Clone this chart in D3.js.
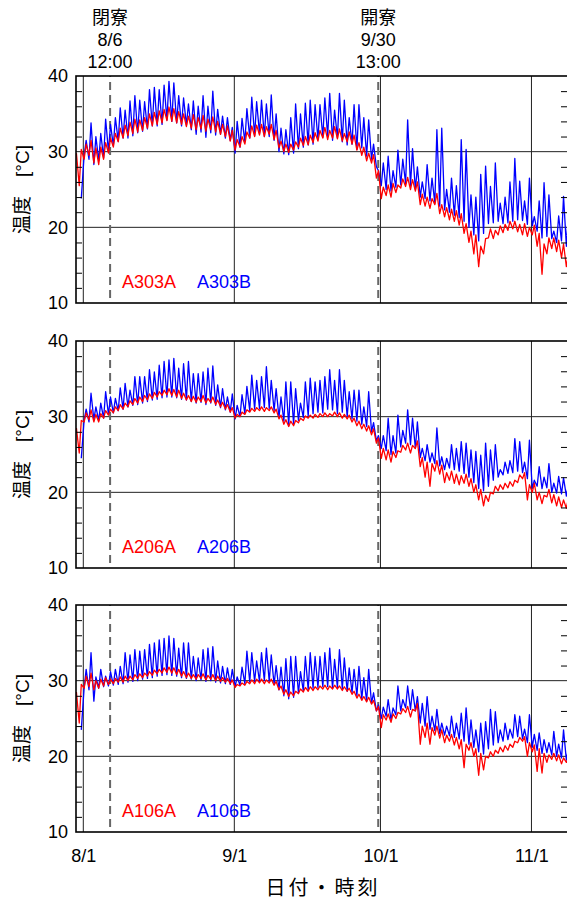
<!DOCTYPE html>
<html>
<head>
<meta charset="utf-8">
<script src="https://cdn.jsdelivr.net/npm/d3@7"></script>
<style>
  body { margin: 0; background: #fff; }
  svg { display: block; }
  text { font-family: "Liberation Sans", Arial, "Noto Sans CJK JP", sans-serif; }
</style>
</head>
<body>
<svg id="chart" width="567" height="899"></svg>
<script>
// Daily readings from 7/30 to 11/8 (102 days): "am" = 04:00, "pm" = 14:00, in °C.
const A303A_am = [null, 25.5,
  29.0, 29.5, 28.5, 28.3, 29.0, 29.8, 30.6, 31.3, 31.8, 32.1, 32.4, 32.6, 32.8, 33.1, 33.4, 33.6, 33.8, 34.1, 34.0, 33.8, 33.6, 33.3, 33.1, 32.9, 33.0, 32.7, 32.9, 32.6, 32.3, 32.0, 31.4,
  30.2, 30.6, 31.0, 31.8, 32.0, 32.2, 32.0, 32.3, 31.6, 30.5, 30.0, 29.9, 30.2, 30.6, 30.8, 30.9, 31.2, 31.4, 31.8, 31.6, 31.8, 31.7, 31.4, 31.3, 31.0, 30.2, 29.5, 28.8, 28.5, 26.5,
  23.8, 24.2, 24.0, 24.6, 25.2, 25.4, 25.0, 24.8, 23.0, 22.8, 22.5, 23.0, 21.8, 21.4, 21.0, 20.8, 20.3, 19.2, 18.0, 16.5, 14.8, 16.5, 18.6, 18.5, 19.0, 19.3, 19.6, 19.8, 19.4, 19.0, 18.8,
  19.0, 17.5, 13.8, 16.5, 17.2, 16.8, 16.0, 14.8];
const A303A_pm = [29.8, 30.3,
  31.0, 31.5, 30.5, 30.6, 31.2, 31.8, 32.4, 33.1, 33.5, 33.9, 34.3, 34.2, 34.5, 35.0, 35.2, 35.4, 35.6, 35.9, 35.7, 35.3, 35.0, 34.7, 34.9, 34.5, 34.8, 34.3, 34.6, 34.0, 33.6, 33.4, 32.8,
  31.6, 32.0, 32.6, 33.4, 33.5, 33.6, 33.3, 33.6, 32.8, 31.4, 31.0, 31.0, 31.3, 31.8, 32.0, 32.2, 32.5, 32.8, 33.2, 32.8, 33.3, 33.0, 32.4, 32.6, 32.2, 31.2, 30.6, 29.8, 29.6, 27.5,
  25.3, 25.6, 25.8, 25.6, 26.4, 26.6, 26.3, 26.0, 24.4, 24.0, 23.8, 24.5, 23.0, 22.6, 22.4, 22.2, 21.8, 20.5, 19.5, 19.0, 17.5, 18.5, 19.8, 19.6, 20.2, 20.4, 20.8, 20.8, 20.4, 20.5, 20.0,
  20.3, 19.2, 17.8, 18.6, 18.6, 18.3, 17.8, 16.5];
const A303B_am = [null, null,
  29.5, 29.0, 28.3, 28.8, 29.2, 30.0, 30.8, 31.4, 31.8, 31.8, 32.1, 32.5, 32.7, 33.0, 33.4, 33.4, 33.6, 34.2, 34.0, 33.8, 33.4, 33.5, 32.9, 32.3, 32.6, 31.9, 32.5, 32.2, 32.3, 31.8, 31.5,
  29.8, 30.6, 31.3, 31.8, 32.1, 32.4, 32.0, 32.0, 31.5, 30.0, 29.7, 29.6, 29.8, 30.4, 30.6, 30.9, 31.0, 31.6, 31.9, 32.0, 31.5, 31.8, 31.3, 30.9, 31.0, 30.3, 30.5, 29.4, 29.0, 28.0,
  25.5, 25.0, 24.8, 25.3, 25.6, 25.8, 25.5, 25.0, 24.0, 23.8, 23.5, 23.2, 22.8, 22.3, 22.0, 21.6, 21.3, 20.8, 20.0, 19.0, 18.2, 19.2, 20.5, 20.6, 20.8, 20.5, 20.6, 20.8, 21.0, 20.9, 20.4,
  20.2, 19.5, 18.6, 18.8, 18.5, 18.0, 18.2, 17.5];
const A303B_pm = [null, 23.8,
  31.5, 33.8, 32.0, 32.4, 34.3, 33.6, 34.5, 35.8, 35.5, 36.7, 37.4, 36.8, 36.6, 38.2, 38.5, 38.2, 38.8, 39.3, 39.1, 37.4, 37.1, 36.3, 36.7, 36.0, 37.4, 36.0, 38.0, 35.6, 34.7, 34.5, 33.2,
  34.0, 34.4, 35.7, 37.2, 36.6, 36.8, 36.3, 37.5, 35.0, 33.1, 32.9, 34.5, 36.3, 35.0, 36.4, 36.8, 36.2, 36.2, 37.1, 37.7, 35.5, 37.7, 36.8, 34.5, 36.2, 36.2, 34.5, 34.2, 31.0, 27.5,
  28.5, 29.4, 27.5, 30.2, 29.0, 34.2, 30.4, 28.0, 26.0, 28.3, 26.5, 32.9, 33.1, 25.0, 26.5, 25.5, 31.6, 30.3, 24.3, 24.0, 27.0, 28.1, 25.4, 28.5, 23.2, 24.0, 26.0, 29.1, 26.1, 23.5, 26.5,
  21.4, 23.5, 25.9, 24.3, 19.5, 21.5, 24.1, 22.0];

const A206A_am = [null, 25.2,
  29.3, 29.6, 29.3, 29.3, 29.8, 30.2, 30.5, 30.8, 31.0, 31.3, 31.6, 31.8, 32.0, 32.2, 32.4, 32.6, 32.8, 32.9, 32.8, 32.6, 32.4, 32.2, 32.0, 31.9, 32.0, 31.8, 31.9, 31.6, 31.3, 31.0, 30.6,
  29.8, 30.0, 30.3, 30.6, 30.7, 30.8, 30.7, 30.8, 30.5, 29.7, 29.0, 28.7, 28.8, 29.2, 29.5, 29.8, 29.8, 29.9, 30.0, 30.0, 30.1, 30.0, 29.8, 29.7, 29.3, 28.8, 28.4, 28.1, 27.6, 26.5,
  24.5, 24.3, 24.0, 24.6, 25.3, 25.6, 25.2, 25.8, 23.4, 22.0, 20.8, 22.8, 22.4, 21.3, 21.6, 21.2, 21.0, 21.2, 20.8, 20.0, 19.0, 18.2, 18.8, 19.8, 20.2, 20.4, 20.6, 20.8, 21.3, 21.8, 19.0,
  20.0, 19.0, 18.5, 19.4, 18.6, 18.2, 18.0, 17.9];
const A206A_pm = [28.5, 29.5,
  30.5, 30.9, 30.3, 30.4, 30.8, 31.0, 31.3, 31.6, 31.8, 32.1, 32.4, 32.6, 32.8, 33.0, 33.2, 33.3, 33.5, 33.7, 33.6, 33.5, 33.1, 32.8, 32.7, 32.6, 32.8, 32.4, 32.6, 32.2, 31.9, 31.6, 31.2,
  30.3, 30.6, 30.9, 31.1, 31.2, 31.3, 31.2, 31.3, 31.0, 30.2, 29.6, 29.4, 29.5, 29.8, 30.1, 30.2, 30.3, 30.4, 30.5, 30.4, 30.6, 30.5, 30.3, 30.2, 29.8, 29.4, 29.0, 28.8, 28.4, 27.2,
  25.8, 25.6, 25.4, 25.5, 26.2, 26.5, 26.2, 26.8, 24.6, 24.0, 23.8, 24.2, 23.6, 22.6, 22.8, 22.4, 22.2, 22.4, 21.8, 21.0, 20.4, 19.6, 20.0, 20.8, 21.0, 21.2, 21.4, 21.6, 22.3, 22.6, 21.0,
  21.2, 20.0, 19.6, 20.4, 19.7, 19.4, 19.0, 19.2];
const A206B_am = [null, null,
  29.5, 29.3, 29.6, 29.5, 29.8, 30.3, 30.5, 30.8, 31.0, 31.3, 31.5, 31.6, 31.8, 32.0, 32.2, 32.3, 32.5, 32.6, 32.6, 32.5, 32.3, 32.2, 32.0, 31.8, 31.9, 31.6, 31.8, 31.5, 31.2, 30.9, 30.6,
  29.7, 30.0, 30.4, 30.8, 31.0, 31.1, 31.2, 31.1, 30.8, 29.9, 29.4, 28.8, 29.0, 29.5, 29.9, 30.1, 30.4, 30.6, 30.5, 31.0, 30.9, 30.4, 30.6, 30.0, 29.7, 29.4, 29.0, 28.7, 28.0, 26.8,
  25.8, 25.5, 25.0, 25.2, 26.0, 26.5, 26.3, 25.8, 24.6, 24.2, 24.0, 23.8, 23.5, 23.0, 23.2, 23.0, 22.8, 22.5, 22.0, 21.3, 20.5, 20.2, 20.8, 21.6, 22.0, 22.3, 22.5, 22.6, 22.8, 22.6, 21.8,
  20.5, 20.8, 20.5, 20.6, 20.0, 19.9, 19.8, 19.5];
const A206B_pm = [null, 24.5,
  31.0, 33.1, 31.3, 31.8, 33.3, 32.6, 32.4, 33.8, 34.4, 33.5, 35.3, 35.3, 35.3, 36.2, 35.9, 36.8, 37.3, 37.5, 37.7, 36.4, 37.0, 37.3, 35.7, 35.7, 35.9, 36.4, 36.7, 34.2, 33.7, 32.6, 33.0,
  31.5, 32.9, 34.0, 35.5, 34.8, 35.3, 36.6, 34.8, 33.7, 32.6, 34.6, 34.6, 33.7, 31.8, 34.6, 35.1, 34.6, 34.8, 35.3, 36.2, 34.8, 36.2, 34.8, 33.3, 33.5, 33.5, 31.3, 33.3, 29.2, 27.5,
  27.5, 29.8, 27.5, 30.2, 28.2, 30.9, 29.8, 29.3, 25.8, 26.3, 25.2, 28.5, 24.7, 24.5, 26.3, 25.8, 26.7, 26.5, 25.6, 25.4, 24.9, 26.5, 25.6, 26.3, 23.0, 24.0, 24.2, 27.1, 26.7, 24.0, 26.9,
  21.6, 23.4, 22.0, 23.8, 21.2, 22.1, 21.9, 21.0];

const A106A_am = [null, 24.4,
  29.0, 29.2, 28.8, 29.0, 29.3, 29.5, 29.6, 29.8, 29.8, 30.0, 30.1, 30.3, 30.4, 30.6, 30.7, 30.9, 31.0, 31.1, 31.0, 30.8, 30.6, 30.4, 30.3, 30.2, 30.3, 30.1, 30.2, 30.0, 29.9, 29.8, 29.6,
  29.1, 29.3, 29.4, 29.6, 29.6, 29.7, 29.6, 29.7, 29.4, 28.8, 28.2, 27.9, 28.0, 28.3, 28.5, 28.6, 28.7, 28.8, 28.9, 28.8, 28.9, 28.9, 28.7, 28.6, 28.2, 27.7, 27.4, 27.2, 26.9, 26.0,
  23.8, 24.8, 24.5, 25.0, 25.6, 25.8, 25.2, 26.0, 21.6, 22.5, 21.6, 22.8, 22.4, 21.8, 22.0, 21.5, 21.0, 18.5, 20.8, 20.0, 17.5, 18.2, 19.8, 20.0, 20.4, 20.6, 20.8, 21.2, 21.8, 22.0, 20.0,
  20.6, 18.0, 17.8, 19.2, 19.6, 19.4, 19.0, 19.2];
const A106A_pm = [28.5, 29.5,
  30.6, 31.0, 30.0, 30.2, 30.4, 30.2, 30.3, 30.5, 30.6, 30.6, 30.8, 30.9, 31.0, 31.2, 31.4, 31.5, 31.7, 31.8, 31.7, 31.5, 31.2, 31.0, 30.8, 30.8, 30.9, 30.7, 30.8, 30.6, 30.4, 30.3, 30.1,
  29.5, 29.7, 29.9, 30.1, 30.2, 30.2, 30.1, 30.2, 29.9, 29.3, 28.8, 28.5, 28.6, 28.9, 29.1, 29.2, 29.2, 29.3, 29.4, 29.3, 29.4, 29.3, 29.2, 29.0, 28.6, 28.2, 27.9, 27.8, 27.4, 26.6,
  25.5, 25.6, 25.6, 25.8, 26.3, 26.6, 26.2, 27.0, 24.0, 24.4, 23.8, 24.0, 23.5, 22.8, 22.9, 22.5, 22.2, 21.6, 21.8, 21.0, 20.4, 20.0, 20.6, 20.8, 21.2, 21.4, 21.6, 22.0, 22.5, 22.6, 21.8,
  21.5, 21.0, 20.4, 20.2, 20.4, 20.2, 19.8, 19.8];
const A106B_am = [null, null,
  29.0, 28.8, 27.3, 29.0, 29.2, 29.3, 29.4, 29.5, 29.6, 29.8, 29.9, 30.0, 30.2, 30.3, 30.4, 30.6, 30.7, 30.8, 30.7, 30.6, 30.4, 30.3, 30.2, 30.0, 30.1, 29.9, 30.0, 29.8, 29.7, 29.6, 29.5,
  29.2, 29.4, 29.6, 29.8, 29.9, 29.9, 30.0, 29.9, 29.5, 28.8, 28.0, 27.6, 27.8, 28.3, 28.6, 28.8, 29.0, 29.1, 29.2, 29.2, 29.0, 29.1, 28.9, 28.6, 28.4, 28.0, 27.6, 27.3, 27.0, 26.0,
  25.0, 25.3, 24.8, 25.5, 26.0, 26.4, 26.2, 26.0, 24.4, 24.0, 23.6, 23.4, 23.0, 22.8, 22.7, 22.5, 22.3, 22.0, 21.6, 21.2, 20.6, 20.3, 21.0, 21.5, 21.8, 22.0, 22.2, 22.4, 22.6, 22.3, 21.8,
  21.2, 20.8, 20.4, 20.5, 20.2, 20.0, 19.8, 19.5];
const A106B_pm = [null, 23.5,
  31.5, 33.7, 30.5, 31.5, 30.6, 31.2, 31.5, 31.9, 33.7, 33.4, 34.1, 33.9, 34.1, 34.8, 35.0, 35.4, 35.6, 35.9, 35.6, 34.3, 35.0, 35.0, 33.2, 33.0, 34.1, 34.3, 34.5, 32.6, 31.9, 31.7, 31.5,
  30.5, 31.8, 33.9, 33.7, 32.6, 33.7, 34.3, 33.4, 32.0, 31.8, 32.9, 33.2, 33.2, 31.2, 33.2, 33.7, 33.2, 33.2, 33.7, 34.3, 32.8, 34.1, 33.0, 31.7, 31.5, 31.9, 30.4, 31.5, 28.4, 26.8,
  26.5, 27.5, 26.4, 29.3, 27.5, 29.3, 28.8, 27.9, 27.0, 27.9, 25.3, 26.2, 24.4, 24.0, 25.3, 24.4, 25.7, 26.4, 24.8, 23.5, 24.4, 24.6, 26.2, 25.9, 23.5, 24.4, 23.6, 25.5, 25.3, 23.6, 25.5,
  22.9, 23.1, 22.2, 21.8, 23.3, 21.6, 23.5, 21.0];

const roomNames = ["A303", "A206", "A106"];
const seriesLabels = [["A303A", "A303B"], ["A206A", "A206B"], ["A106A", "A106B"]];
const yTickLabels = [10, 20, 30, 40];
const yMinorTicks = [12, 14, 16, 18, 22, 24, 26, 28, 32, 34, 36, 38];
const yGrid = [20, 30];
const xTickLabels = ["8/1", "9/1", "10/1", "11/1"];
const xTickDates = [Date.UTC(2020, 7, 1), Date.UTC(2020, 8, 1), Date.UTC(2020, 9, 1), Date.UTC(2020, 10, 1)].map(t => new Date(t));
const eventLines = [["閉寮", "8/6", "12:00"], ["開寮", "9/30", "13:00"]];
const eventDates = [new Date(Date.UTC(2020, 7, 6, 12)), new Date(Date.UTC(2020, 8, 30, 13))];

// Build the time series (two readings a day, starting 7/30)
const firstDay = Date.UTC(2020, 6, 30);
function toSeries(am, pm) {
  const out = [];
  for (let i = 0; i < am.length; i++) {
    out.push({ t: new Date(firstDay + (i * 24 + 4) * 3600e3), v: am[i] });
    out.push({ t: new Date(firstDay + (i * 24 + 14) * 3600e3), v: pm[i] });
  }
  return out;
}
const panelSeries = [
  [toSeries(A303A_am, A303A_pm), toSeries(A303B_am, A303B_pm)],
  [toSeries(A206A_am, A206A_pm), toSeries(A206B_am, A206B_pm)],
  [toSeries(A106A_am, A106A_pm), toSeries(A106B_am, A106B_pm)]
];
const colors = ["#ff0000", "#0000ff"];

const svg = d3.select("#chart");
const left = 76, right = 568, panelH = 227;
const panelTops = [76, 341, 605];

const x = d3.scaleUtc()
  .domain([new Date(Date.UTC(2020, 6, 30, 12)), new Date(Date.UTC(2020, 10, 8, 12))])
  .range([left, right]);
const y = d3.scaleLinear().domain([10, 40]).range([panelH, 0]);

svg.append("defs").append("clipPath").attr("id", "plotClip")
  .append("rect").attr("x", left).attr("y", 0).attr("width", right - left).attr("height", panelH);

// Event annotations above the top panel
eventLines.forEach((lines, k) => {
  const t = svg.append("text")
    .attr("x", x(eventDates[k]))
    .attr("text-anchor", "middle")
    .attr("font-size", 18)
    .attr("fill", "#000");
  lines.forEach((s, j) => {
    t.append("tspan").attr("x", x(eventDates[k])).attr("y", 24 + j * 22.2).text(s);
  });
});

roomNames.forEach((room, p) => {
  const g = svg.append("g").attr("transform", `translate(0,${panelTops[p]})`);

  // grid lines
  g.selectAll(".hgrid").data(yGrid).join("line")
    .attr("x1", left).attr("x2", right)
    .attr("y1", d => y(d)).attr("y2", d => y(d))
    .attr("stroke", "#222").attr("stroke-width", 1);
  g.selectAll(".vgrid").data(xTickDates).join("line")
    .attr("x1", d => x(d)).attr("x2", d => x(d))
    .attr("y1", 0).attr("y2", panelH)
    .attr("stroke", "#222").attr("stroke-width", 1);

  // event markers
  g.selectAll(".event").data(eventDates).join("line")
    .attr("x1", d => x(d)).attr("x2", d => x(d))
    .attr("y1", 0).attr("y2", panelH)
    .attr("stroke", "#666").attr("stroke-width", 2)
    .attr("stroke-dasharray", "8,5").attr("stroke-dashoffset", -6);

  // temperature lines
  const line = d3.line()
    .defined(d => d.v != null)
    .x(d => x(d.t)).y(d => y(d.v));
  const order = [1, 0];
  order.forEach(s => {
    g.append("path")
      .datum(panelSeries[p][s])
      .attr("clip-path", "url(#plotClip)")
      .attr("fill", "none")
      .attr("stroke", colors[s])
      .attr("stroke-width", 1.3)
      .attr("stroke-linejoin", "round")
      .attr("d", line);
  });

  // minor ticks, left and right, pointing inward
  g.append("g").attr("transform", `translate(${left},0)`)
    .call(d3.axisRight(y).tickValues(yMinorTicks).tickSize(6).tickFormat(""))
    .call(a => a.select(".domain").remove())
    .call(a => a.selectAll("line").attr("stroke", "#000"));
  g.append("g").attr("transform", `translate(${right},0)`)
    .call(d3.axisLeft(y).tickValues(yMinorTicks).tickSize(7).tickFormat(""))
    .call(a => a.select(".domain").remove())
    .call(a => a.selectAll("line").attr("stroke", "#000"));

  // y tick labels
  g.append("g").attr("transform", `translate(${left},0)`)
    .call(d3.axisLeft(y).tickValues(yTickLabels).tickSize(0).tickPadding(8).tickFormat(d3.format("d")))
    .call(a => a.select(".domain").remove())
    .call(a => a.selectAll("text").attr("font-size", 18).attr("fill", "#000")
      .attr("font-family", "Liberation Sans, Arial, sans-serif"));

  // frame
  g.append("rect").attr("x", left).attr("y", 0)
    .attr("width", right - left).attr("height", panelH)
    .attr("fill", "none").attr("stroke", "#000").attr("stroke-width", 1.6);

  // series labels
  const lx = [122, 197];
  seriesLabels[p].forEach((s, k) => {
    g.append("text").attr("x", lx[k]).attr("y", panelH - 15)
      .attr("font-size", 18).attr("fill", colors[k]).text(s);
  });

  // y axis title
  g.append("text")
    .attr("transform", `translate(22,${panelH / 2}) rotate(-90)`)
    .attr("text-anchor", "middle")
    .attr("dominant-baseline", "central")
    .attr("font-size", 19)
    .attr("fill", "#000")
    .text("温度\u3000[°C]");

  // x tick labels under the last panel
  if (p === roomNames.length - 1) {
    g.append("g").attr("transform", `translate(0,${panelH})`)
      .call(d3.axisBottom(x).tickValues(xTickDates).tickSize(0).tickPadding(17)
        .tickFormat((d, i) => xTickLabels[i]))
      .call(a => a.select(".domain").remove())
      .call(a => a.selectAll("text").attr("font-size", 18).attr("fill", "#000")
        .attr("font-family", "Liberation Sans, Arial, sans-serif"));
  }
});

// x axis title
svg.append("text")
  .attr("x", 323).attr("y", 895)
  .attr("text-anchor", "middle")
  .attr("font-size", 20)
  .attr("letter-spacing", 3)
  .attr("fill", "#000")
  .text("日付・時刻");
</script>
</body>
</html>
